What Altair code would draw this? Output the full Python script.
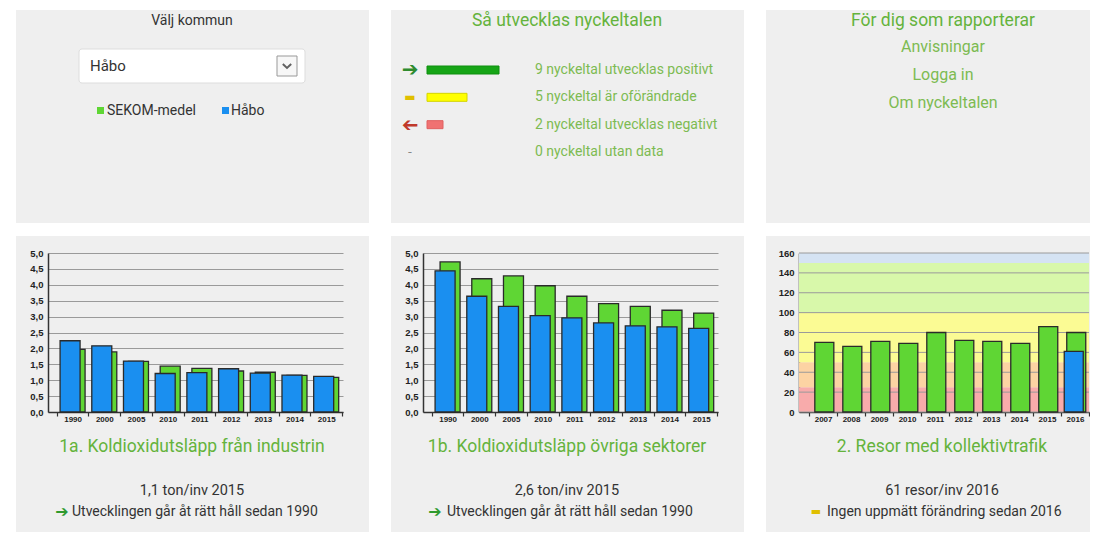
import altair as alt
import pandas as pd

# ---------------- data ----------------
years_1 = ["1990", "2000", "2005", "2010", "2011", "2012", "2013", "2014", "2015"]
habo_1a = [2.24, 2.08, 1.60, 1.21, 1.24, 1.36, 1.22, 1.16, 1.12]
sekom_1a = [1.97, 1.89, 1.59, 1.44, 1.37, 1.29, 1.25, 1.15, 1.09]
habo_1b = [4.44, 3.64, 3.32, 3.03, 2.96, 2.80, 2.71, 2.68, 2.63]
sekom_1b = [4.72, 4.19, 4.28, 3.97, 3.64, 3.41, 3.32, 3.20, 3.11]

years_2 = ["2007", "2008", "2009", "2010", "2011", "2012", "2013", "2014", "2015", "2016"]
sekom_2 = [70, 66, 71, 69, 80, 72, 71, 69, 86, 80]
habo_2 = [None, None, None, None, None, None, None, None, None, 61]

band_lo = [0, 25, 50, 100, 150]
band_hi = [25, 50, 100, 150, 160]
band_colors = ["#f8abab", "#fcd3a3", "#fbfb94", "#d8f8aa", "#d5e3f3"]

status_counts = [9, 5, 2, 0]
status_texts = ["nyckeltal utvecklas positivt", "nyckeltal är oförändrade",
                "nyckeltal utvecklas negativt", "nyckeltal utan data"]
status_fill = ["#16a516", "#ffff00", "#f07272", "#ffffff"]
status_stroke = ["#0f8f0f", "#d4d400", "#e06060", "#ffffff"]
status_icons = ["➔", "▬", "➔", "-"]
status_icon_colors = ["#2e8b2e", "#e0bf00", "#c0392b", "#888888"]
status_icon_angles = [0, 0, 180, 0]
status_icon_sizes = [20, 12, 20, 12]

links = ["Anvisningar", "Logga in", "Om nyckeltalen"]

# ---------------- style ----------------
FONT = "Roboto"
GREEN = "#5fd634"
BLUE = "#1a8ff0"
TITLE_GREEN = "#64b33c"
LIGHT_GREEN = "#7dbb52"
DARK = "#333333"
W1, W2, W3 = 353, 353, 324
H_TOP, H_BOT = 213, 296
Y0, Y1 = 176, 17  # pixel rows of y-domain min/max inside the bottom panels


def txt(text, x, y, size, color, align="center", weight="normal", font=FONT):
    return alt.Chart(pd.DataFrame({"t": [text]})).mark_text(
        align=align, baseline="middle", fontSize=size, color=color,
        fontWeight=weight, font=font
    ).encode(text="t:N", x=alt.value(x), y=alt.value(y))


def bar_panel(years, habo, sekom, ydomain, yvalues, label_expr, xrange, pad_outer,
              align, bar_w, off, width, title, value_txt, icon, icon_color, icon_size,
              trend_txt, icon_x, text_x, bands=False):
    df = pd.DataFrame({"year": years, "habo": habo, "sekom": sekom})
    xs = alt.Scale(domain=years, range=xrange, paddingInner=0,
                   paddingOuter=pad_outer, align=align)
    ys = alt.Scale(domain=ydomain, range=[Y0, Y1], nice=False, zero=True)
    x_axis = alt.Axis(offset=-(H_BOT - Y0), title=None, ticks=True, tickBand="extent",
                      tickSize=4, tickColor="#333", tickWidth=1.2, labelAngle=0,
                      labelFontSize=8, labelFontWeight="bold", labelColor="#222",
                      labelFont="Liberation Sans", labelPadding=-1, labelOverlap=False,
                      domainColor="#333", domainWidth=1.5, grid=False)
    y_axis = alt.Axis(offset=-xrange[0], title=None, ticks=False, values=yvalues,
                      labelExpr=label_expr, labelFontSize=9.5, labelFontWeight="bold",
                      labelColor="#222", labelFont="Liberation Sans", labelPadding=5,
                      domainColor="#333", domainWidth=1.5, grid=not bands,
                      gridColor="#9a9a9a", gridWidth=1)
    layers = []
    if bands:
        bdf = pd.DataFrame({"lo": band_lo, "hi": band_hi, "c": band_colors})
        layers.append(alt.Chart(bdf).mark_rect().encode(
            y=alt.Y("lo:Q", scale=ys, axis=y_axis), y2="hi:Q",
            x=alt.value(xrange[0]), x2=alt.value(xrange[1]),
            color=alt.Color("c:N", scale=None)))
        gdf = pd.DataFrame({"v": yvalues})
        layers.append(alt.Chart(gdf).mark_rule(color="#9a9a9a", strokeWidth=1).encode(
            y=alt.Y("v:Q", scale=ys, axis=y_axis),
            x=alt.value(xrange[0]), x2=alt.value(xrange[1])))
    layers.append(alt.Chart(df).mark_bar(
        width=bar_w, xOffset=off, color=GREEN, stroke="#2a2a2a", strokeWidth=1.3
    ).encode(x=alt.X("year:N", scale=xs, axis=x_axis, sort=years),
             y=alt.Y("sekom:Q", scale=ys, axis=y_axis)))
    layers.append(alt.Chart(df).mark_bar(
        width=bar_w, xOffset=-off, color=BLUE, stroke="#2a2a2a", strokeWidth=1.3
    ).encode(x=alt.X("year:N", scale=xs, axis=x_axis, sort=years),
             y=alt.Y("habo:Q", scale=ys, axis=y_axis)))
    layers.append(txt(title, 176, 211, 17.5, TITLE_GREEN))
    layers.append(txt(value_txt, 176, 255, 14.5, DARK))
    layers.append(txt(icon, icon_x, 276, icon_size, icon_color, font="DejaVu Sans"))
    layers.append(txt(trend_txt, text_x, 276, 14, DARK, align="left"))
    return alt.layer(*layers).properties(width=width, height=H_BOT)


comma1 = "replace(format(datum.value, '.1f'), '.', ',')"
vals_1 = [0, 0.5, 1, 1.5, 2, 2.5, 3, 3.5, 4, 4.5, 5]

p1 = bar_panel(years_1, habo_1a, sekom_1a, [0, 5], vals_1, comma1, [32, 327], 0.153, 0.9,
               20, 2.5, W1, "1a. Koldioxidutsläpp från industrin",
               f"{str(habo_1a[-1])[:3].replace('.', ',')} ton/inv {years_1[-1]}",
               "➔", "#2e9a2e", 16, "Utvecklingen går åt rätt håll sedan 1990", 46, 56)
p2 = bar_panel(years_1, habo_1b, sekom_1b, [0, 5], vals_1, comma1, [32, 327], 0.153, 0.9,
               20, 2.5, W2, "1b. Koldioxidutsläpp övriga sektorer",
               f"{str(habo_1b[-1])[:3].replace('.', ',')} ton/inv {years_1[-1]}",
               "➔", "#2e9a2e", 16, "Utvecklingen går åt rätt håll sedan 1990", 44, 56)
p3 = bar_panel(years_2, habo_2, sekom_2, [0, 160], [0, 20, 40, 60, 80, 100, 120, 140, 160],
               "format(datum.value, 'd')", [33, 323], 0.18, 1.0,
               19, 1.25, W3, "2. Resor med kollektivtrafik",
               f"{habo_2[-1]} resor/inv {years_2[-1]}",
               "▬", "#e0bf00", 11, "Ingen uppmätt förändring sedan 2016", 50, 61, bands=True)

# ---------------- top row ----------------
sel_box = alt.Chart(pd.DataFrame({"a": [0]})).mark_rect(
    fill="white", stroke="#dddddd", strokeWidth=1, cornerRadius=3
).encode(x=alt.value(63), x2=alt.value(289), y=alt.value(39), y2=alt.value(73))
arrow_box = alt.Chart(pd.DataFrame({"a": [0]})).mark_rect(
    fill="#f7f7f7", stroke="#999999", strokeWidth=1
).encode(x=alt.value(261), x2=alt.value(281), y=alt.value(46), y2=alt.value(66))
chevron = alt.Chart(pd.DataFrame({"a": [0]})).mark_point(
    shape="M-1,-0.45L0,0.45L1,-0.45", filled=False, size=70, strokeWidth=2, color="#222"
).encode(x=alt.value(271), y=alt.value(56))
leg_df = pd.DataFrame({"name": ["SEKOM-medel", "Håbo"], "c": [GREEN, BLUE],
                       "sx": [84.5, 209.5], "tx": [91, 215]})
leg_sq = alt.Chart(leg_df).mark_square(size=49, opacity=1).encode(
    x=alt.X("sx:Q", scale=None), y=alt.value(100.5), color=alt.Color("c:N", scale=None))
leg_tx = alt.Chart(leg_df).mark_text(align="left", baseline="middle", fontSize=14,
                                     font=FONT, color=DARK).encode(
    x=alt.X("tx:Q", scale=None), y=alt.value(100.5), text="name:N")
top1 = alt.layer(
    txt("Välj kommun", 176, 11, 14, DARK),
    sel_box, arrow_box, chevron,
    txt("Håbo", 74, 56, 15, DARK, align="left"),
    leg_sq, leg_tx,
).properties(width=W1, height=H_TOP)

sdf = pd.DataFrame({
    "i": list(range(len(status_counts))),
    "count": status_counts,
    "label": [f"{c} {t}" for c, t in zip(status_counts, status_texts)],
    "fill": status_fill, "stroke": status_stroke,
    "icon": status_icons, "ic": status_icon_colors, "ang": status_icon_angles,
    "isz": status_icon_sizes,
})
ysc = alt.Scale(domain=[0, 3], range=[60, 142], padding=0, nice=False, zero=False)
xsc = alt.Scale(domain=[0, 9], range=[36, 108], padding=0, nice=False)
s_bars = alt.Chart(sdf).transform_filter("datum.count > 0").mark_bar(
    orient="horizontal", size=8, strokeWidth=1
).encode(x=alt.X("count:Q", scale=xsc, axis=None),
         y=alt.Y("i:Q", scale=ysc, axis=None),
         color=alt.Color("fill:N", scale=None),
         stroke=alt.Stroke("stroke:N", scale=None))
s_text = alt.Chart(sdf).mark_text(align="left", baseline="middle", fontSize=14,
                                  font=FONT, color=LIGHT_GREEN).encode(
    x=alt.value(144), y=alt.Y("i:Q", scale=ysc, axis=None), text="label:N")
s_icon = alt.Chart(sdf).mark_text(align="center", baseline="middle",
                                  font="DejaVu Sans").encode(
    x=alt.value(19), y=alt.Y("i:Q", scale=ysc, axis=None), text="icon:N",
    color=alt.Color("ic:N", scale=None), angle=alt.Angle("ang:Q", scale=None),
    size=alt.Size("isz:Q", scale=None))
top2 = alt.layer(
    txt("Så utvecklas nyckeltalen", 176, 11, 17.5, TITLE_GREEN),
    s_bars, s_text, s_icon,
).properties(width=W2, height=H_TOP)

ldf = pd.DataFrame({"t": links, "y": [37, 65, 93]})
l_text = alt.Chart(ldf).mark_text(align="center", baseline="middle", fontSize=16,
                                  font=FONT, color=LIGHT_GREEN).encode(
    x=alt.value(177), y=alt.Y("y:Q", scale=None), text="t:N")
top3 = alt.layer(
    txt("För dig som rapporterar", 177, 11, 17.5, TITLE_GREEN),
    l_text,
).properties(width=W3, height=H_TOP)

row1 = alt.hconcat(top1, top2, top3, spacing=22)
row2 = alt.hconcat(p1, p2, p3, spacing=22)

chart = alt.vconcat(row1, row2, spacing=13).properties(
    padding={"left": 8, "top": 2, "right": 0, "bottom": 0},
    background="white",
).configure_view(fill="#efefef", stroke=None)

chart.save("out.html", embed_options={"renderer": "svg", "actions": False})
